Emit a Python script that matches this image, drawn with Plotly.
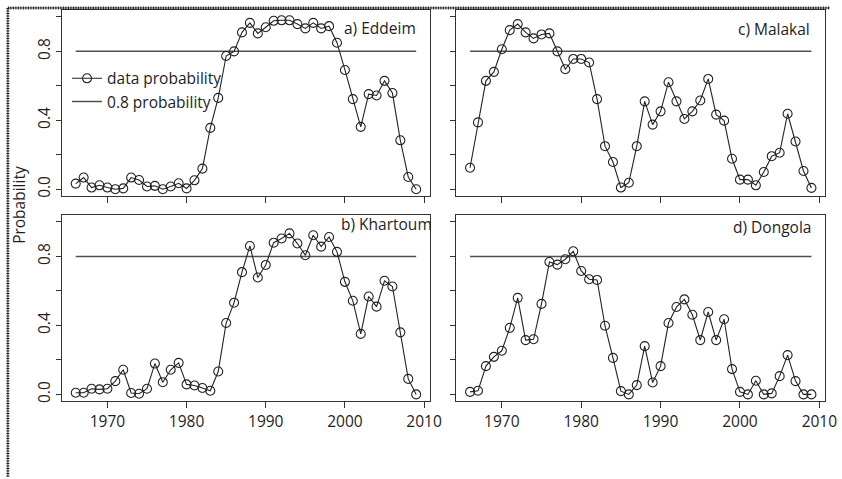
import plotly.graph_objects as go

W, H = 842, 479

years = list(range(1966, 2010))

eddeim = [0.033, 0.068, 0.010, 0.023, 0.010, 0.000, 0.005, 0.068, 0.054, 0.016,
          0.020, 0.000, 0.016, 0.035, 0.005, 0.052, 0.120, 0.356, 0.530, 0.773,
          0.800, 0.910, 0.965, 0.904, 0.940, 0.977, 0.980, 0.980, 0.958, 0.933,
          0.965, 0.933, 0.946, 0.850, 0.692, 0.523, 0.362, 0.552, 0.544, 0.629,
          0.558, 0.284, 0.071, 0.000]

malakal = [0.125, 0.388, 0.629, 0.681, 0.812, 0.923, 0.958, 0.910, 0.875, 0.898,
           0.904, 0.800, 0.696, 0.756, 0.756, 0.735, 0.523, 0.250, 0.158, 0.010,
           0.038, 0.250, 0.510, 0.375, 0.452, 0.621, 0.510, 0.408, 0.452, 0.515,
           0.640, 0.433, 0.398, 0.177, 0.056, 0.056, 0.023, 0.100, 0.192, 0.212,
           0.438, 0.277, 0.106, 0.008]

khartoum = [0.010, 0.010, 0.033, 0.029, 0.033, 0.077, 0.143, 0.008, 0.004, 0.033,
            0.179, 0.071, 0.143, 0.183, 0.058, 0.052, 0.037, 0.021, 0.133, 0.414,
            0.532, 0.709, 0.861, 0.678, 0.751, 0.880, 0.904, 0.934, 0.875, 0.807,
            0.923, 0.857, 0.913, 0.827, 0.653, 0.543, 0.351, 0.568, 0.509, 0.659,
            0.626, 0.360, 0.090, 0.000]

dongola = [0.015, 0.021, 0.164, 0.218, 0.253, 0.386, 0.560, 0.315, 0.320, 0.525,
           0.768, 0.753, 0.784, 0.830, 0.716, 0.668, 0.664, 0.398, 0.212, 0.019,
           0.000, 0.054, 0.280, 0.069, 0.164, 0.414, 0.507, 0.551, 0.462, 0.315,
           0.478, 0.315, 0.436, 0.147, 0.015, 0.000, 0.079, 0.000, 0.006, 0.106,
           0.228, 0.077, 0.000, 0.000]

threshold = 0.8

panel_names = ["a) Eddeim", "c) Malakal", "b) Khartoum", "d) Dongola"]
panel_data = [eddeim, malakal, khartoum, dongola]

x_ticks = [1970, 1980, 1990, 2000, 2010]
y_ticks = [0.0, 0.2, 0.4, 0.6, 0.8, 1.0]
y_ticktext = ["0.0", "", "0.4", "", "0.8", ""]

legend_labels = ["data probability", "0.8 probability"]

FONT = "Open Sans"
FS = 15.5
LINE = "#222222"
TXT = "#1e1e1e"

# panel pixel boxes: (left, right, top, bottom)
boxes = [(63, 436, 10, 197), (463, 837, 10, 197),
         (63, 436, 216, 403), (463, 837, 216, 403)]

fig = go.Figure()

for i, (name, vals) in enumerate(zip(panel_names, panel_data)):
    n = i + 1
    xa = "x" if n == 1 else f"x{n}"
    ya = "y" if n == 1 else f"y{n}"
    fig.add_trace(go.Scatter(
        x=[years[0], years[-1]], y=[threshold, threshold], mode="lines",
        line=dict(color="#505050", width=1.5),
        name=legend_labels[1], showlegend=(n == 1), legendrank=2,
        xaxis=xa, yaxis=ya))
    fig.add_trace(go.Scatter(
        x=years, y=vals, mode="lines+markers",
        line=dict(color=LINE, width=1.1),
        marker=dict(symbol="circle-open", size=9, color=LINE,
                    line=dict(width=1.1, color=LINE)),
        name=legend_labels[0], showlegend=(n == 1), legendrank=1,
        xaxis=xa, yaxis=ya))

layout = dict(
    width=W, height=H,
    margin=dict(l=0, r=0, t=0, b=0),
    paper_bgcolor="white", plot_bgcolor="white",
    font=dict(family=FONT, size=FS, color=TXT),
    showlegend=True,
    legend=dict(x=68 / W, y=1 - 62 / H, xanchor="left", yanchor="top",
                bgcolor="rgba(0,0,0,0)", borderwidth=0,
                font=dict(family=FONT, size=FS, color=TXT),
                tracegroupgap=0, itemwidth=30),
)

for i, (l, r, t, b) in enumerate(boxes):
    n = i + 1
    xk = "xaxis" if n == 1 else f"xaxis{n}"
    yk = "yaxis" if n == 1 else f"yaxis{n}"
    bottom = n in (3, 4)
    left = n in (1, 3)
    layout[xk] = dict(
        domain=[l / W, r / W], range=[1964.28, 2010.72],
        anchor="y" if n == 1 else f"y{n}",
        showline=True, linecolor="#333333", linewidth=1, mirror=True,
        ticks="outside", ticklen=6, tickwidth=1, tickcolor="#333333",
        tickvals=x_ticks, showticklabels=bottom,
        tickfont=dict(family=FONT, size=FS, color=TXT),
        showgrid=False, zeroline=False)
    layout[yk] = dict(
        domain=[1 - b / H, 1 - t / H], range=[-0.04, 1.04],
        anchor="x" if n == 1 else f"x{n}",
        showline=True, linecolor="#333333", linewidth=1, mirror=True,
        ticks="outside", ticklen=5, tickwidth=1, tickcolor="#333333",
        tickvals=y_ticks, ticktext=y_ticktext, showticklabels=left,
        tickangle=-90,
        tickfont=dict(family=FONT, size=FS, color=TXT),
        showgrid=False, zeroline=False)

fig.update_layout(**layout)

label_pos = [(347, 28), (747, 29), (344, 225), (742, 228)]
for name, (px, py) in zip(panel_names, label_pos):
    fig.add_annotation(text=name, xref="paper", yref="paper",
                       x=px / W, y=1 - py / H, xanchor="left", yanchor="middle",
                       showarrow=False, font=dict(family=FONT, size=FS, color=TXT))

fig.add_annotation(text="Probability", xref="paper", yref="paper",
                   x=19 / W, y=1 - 206 / H, textangle=-90,
                   xanchor="center", yanchor="middle", showarrow=False,
                   font=dict(family=FONT, size=FS, color=TXT))

# hatched outer border (top and left)
for dash, width, color in [("solid", 1, "#444444"), ("1px,1.5px", 3, "#1a1a1a")]:
    fig.add_shape(type="line", xref="paper", yref="paper",
                  x0=8 / W, x1=1, y0=1 - 8 / H, y1=1 - 8 / H,
                  line=dict(color=color, width=width, dash=dash))
    fig.add_shape(type="line", xref="paper", yref="paper",
                  x0=8 / W, x1=8 / W, y0=1 - 8 / H, y1=0,
                  line=dict(color=color, width=width, dash=dash))

fig.write_html("out.html")
